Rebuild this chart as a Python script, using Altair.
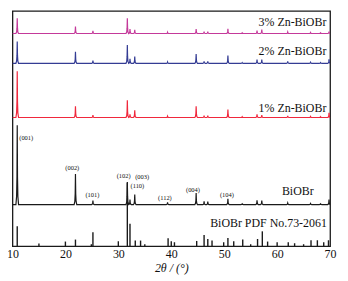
import altair as alt
import pandas as pd

# ---- data (heights in plot-height units) ----
peak_pos = [10.9, 21.9, 25.2, 31.7, 32.2, 33.1, 39.3, 44.7, 46.2, 46.9,
            50.7, 53.4, 56.2, 57.1, 62.0, 66.3, 68.2, 69.8]
h_3pct = [15.4, 7.0, 2.7, 15.4, 4.4, 3.7, 1.3, 4.4, 2.0, 2.0,
          4.7, 0.7, 3.0, 4.0, 1.5, 1.0, 0.7, 2.0]
h_2pct = [22.0, 11.7, 2.7, 18.4, 4.4, 6.7, 1.3, 9.4, 2.0, 2.0,
          7.7, 0.7, 3.7, 3.7, 2.0, 1.0, 0.7, 4.0]
h_1pct = [46.6, 11.3, 2.3, 17.3, 3.3, 7.3, 1.3, 11.3, 2.0, 2.0,
          8.0, 0.7, 3.3, 2.3, 1.7, 1.0, 0.7, 4.7]
h_biobr = [80.0, 30.7, 4.0, 22.7, 5.0, 10.0, 2.3, 11.7, 3.3, 3.0,
           5.7, 0.7, 4.3, 4.0, 1.5, 1.0, 0.7, 5.0]

series_names = ["3% Zn-BiOBr", "2% Zn-BiOBr", "1% Zn-BiOBr", "BiOBr"]
series_offsets = [214.3, 184.3, 129.7, 42.0]
series_colors = ["#c4399a", "#343c94", "#f0283c", "#1a1a1a"]
series_heights = [h_3pct, h_2pct, h_1pct, h_biobr]

# reference card sticks
pdf_pos = [10.9, 15.0, 20.0, 21.9, 24.9, 25.2, 30.0, 31.7, 32.2, 33.2, 34.2, 35.0,
           39.4, 40.0, 40.6, 44.8, 46.2, 46.9, 47.7, 49.9, 50.7, 51.8, 53.5, 55.0,
           56.3, 57.2, 58.2, 60.0, 62.1, 63.3, 65.0, 66.4, 67.6, 68.8, 69.7]
pdf_h = [20.0, 2.7, 4.7, 6.7, 2.0, 14.0, 5.0, 64.0, 22.7, 5.7, 5.7, 2.0,
         8.0, 5.0, 4.0, 5.3, 11.3, 7.3, 5.7, 4.0, 8.3, 5.0, 6.7, 2.0,
         7.3, 15.0, 4.7, 4.0, 4.0, 3.0, 2.0, 6.0, 6.0, 4.0, 6.0]

miller_labels = ["(001)", "(002)", "(101)", "(102)", "(003)", "(110)", "(112)", "(004)", "(104)"]
miller_x = [12.6, 21.3, 25.1, 31.0, 34.5, 33.6, 38.8, 44.1, 50.5]
miller_y = [109.0, 78.7, 52.0, 71.0, 69.3, 60.3, 48.7, 57.0, 52.0]

name_labels = ["3% Zn-BiOBr", "2% Zn-BiOBr", "1% Zn-BiOBr", "BiOBr PDF No.73-2061"]
name_x = [69.3, 69.3, 69.3, 69.4]
name_y = [226.3, 197.0, 139.7, 23.7]
biobr_label_x = [63.9]
biobr_label_y = [56.0]

x_ticks = [10, 20, 30, 40, 50, 60, 70]

# ---- build trace points from the read peak list ----
rows = []
shape = [(-0.25, 0.0), (-0.12, 0.1), (-0.05, 0.35), (0.0, 1.0),
         (0.05, 0.35), (0.12, 0.1), (0.25, 0.0)]
for name, off, hs in zip(series_names, series_offsets, series_heights):
    i = 0
    rows.append(dict(s=name, x=10.0, y=off, i=i)); i += 1
    for p, h in zip(peak_pos, hs):
        for dx, f in shape:
            rows.append(dict(s=name, x=p + dx, y=off + f * h, i=i)); i += 1
    rows.append(dict(s=name, x=70.0, y=off, i=i))
traces = pd.DataFrame(rows)

sticks = pd.DataFrame(dict(x=pdf_pos, h=pdf_h, b=[0.0] * len(pdf_pos)))
miller = pd.DataFrame(dict(t=miller_labels, x=miller_x, y=miller_y))
names = pd.DataFrame(dict(t=name_labels, x=name_x, y=name_y))
biobr_lab = pd.DataFrame(dict(t=["BiOBr"], x=biobr_label_x, y=biobr_label_y))

FONT = "Liberation Serif"
xscale = alt.Scale(domain=[10, 70], nice=False, zero=False)
yscale = alt.Scale(domain=[0, 237], nice=False, zero=False)

xaxis = alt.Axis(values=x_ticks, ticks=False, grid=False, domain=False,
                 labelFont=FONT, labelFontSize=12, labelColor="#111",
                 labelPadding=2, labelFlush=False,
                 title="2θ / (°)", titleFont=FONT, titleFontSize=12,
                 titleFontWeight="normal", titleFontStyle="italic",
                 titleColor="#111", titlePadding=3)

lines = alt.Chart(traces).mark_line(strokeWidth=1.2, clip=True).encode(
    x=alt.X("x:Q", scale=xscale, axis=xaxis),
    y=alt.Y("y:Q", scale=yscale, axis=None),
    order="i:Q",
    color=alt.Color("s:N", scale=alt.Scale(domain=series_names, range=series_colors),
                    legend=None),
)

rules = alt.Chart(sticks).mark_rule(color="#1a1a1a", strokeWidth=1.4).encode(
    x=alt.X("x:Q", scale=xscale),
    y=alt.Y("h:Q", scale=yscale),
    y2="b:Q",
)

miller_text = alt.Chart(miller).mark_text(font=FONT, fontSize=6.5, color="#111",
                                          align="center", baseline="middle").encode(
    x=alt.X("x:Q", scale=xscale), y=alt.Y("y:Q", scale=yscale), text="t:N")

name_text = alt.Chart(names).mark_text(font=FONT, fontSize=12, color="#111",
                                       align="right", baseline="middle").encode(
    x=alt.X("x:Q", scale=xscale), y=alt.Y("y:Q", scale=yscale), text="t:N")

biobr_text = alt.Chart(biobr_lab).mark_text(font=FONT, fontSize=12, color="#111",
                                            align="center", baseline="middle").encode(
    x=alt.X("x:Q", scale=xscale), y=alt.Y("y:Q", scale=yscale), text="t:N")

chart = alt.layer(lines, rules, miller_text, name_text, biobr_text).properties(
    width=320, height=237,
    autosize=alt.AutoSizeParams(type="none"),
    padding={"left": 4.5, "top": 2, "right": 10, "bottom": 30},
).configure_view(stroke="#1a1a1a", strokeWidth=1.3)

chart.save("out.html", embed_options={"renderer": "svg", "actions": False})
